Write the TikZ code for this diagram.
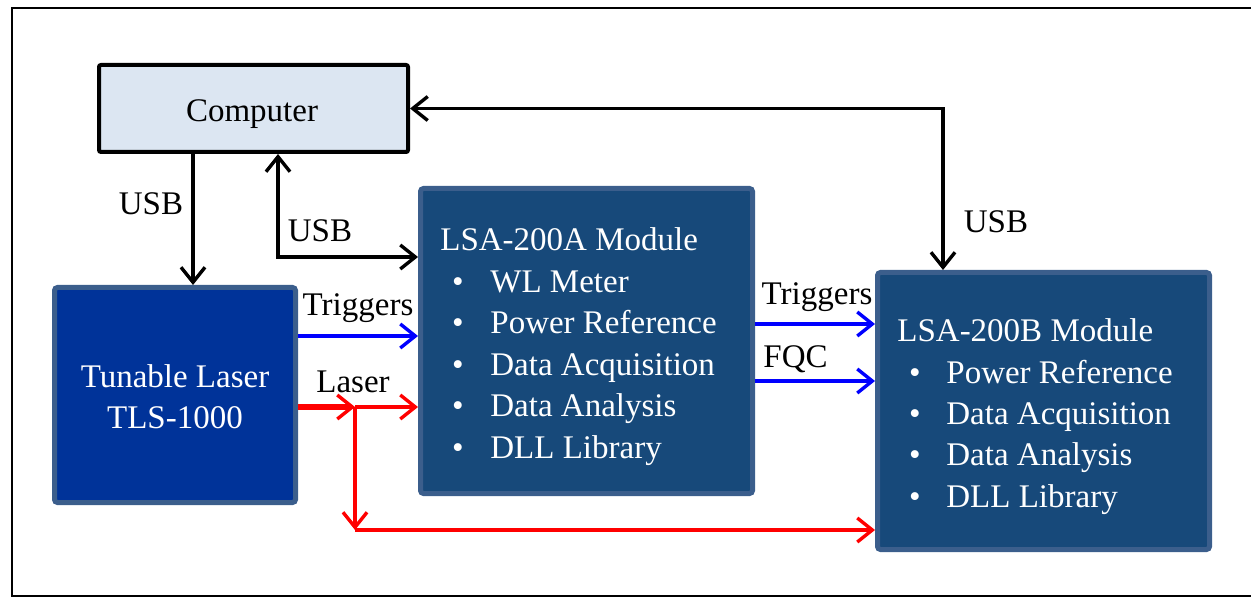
\documentclass[tikz,border=0pt]{standalone}
\usepackage{fontspec}
\setmainfont{Liberation Serif}
\usetikzlibrary{arrows.meta}
\definecolor{compfill}{RGB}{220,230,242}
\definecolor{laserfill}{RGB}{0,51,153}
\definecolor{lsafill}{RGB}{23,73,122}
\definecolor{boxedge}{RGB}{59,94,140}
\begin{document}
\begin{tikzpicture}[x=0.5pt,y=-0.5pt,
  font=\fontsize{16.5}{19}\selectfont,
  tip/.tip={Straight Barb[length=7.5pt,width=12pt,line width=1.7pt]},
  arr/.style={line width=1.7pt,-tip},
  arrtwo/.style={line width=1.7pt,tip-tip},
  barr/.style={arr,draw={rgb,255:red,0;green,0;blue,255}},
  rarr/.style={arr,draw={rgb,255:red,255;green,0;blue,0}},
  compbox/.style={draw=black,line width=2pt,fill=compfill,rounded corners=1pt,inner sep=0pt},
  darkbox/.style={draw=boxedge,line width=2.5pt,rounded corners=1.5pt,inner sep=0pt},
  lbl/.style={anchor=base,inner sep=0pt},
  wlbl/.style={anchor=base,inner sep=0pt,text=white},
  wlblw/.style={anchor=base west,inner sep=0pt,text=white}]
\useasboundingbox (0,0) rectangle (1251,598);
\begin{scope}
\clip (0,0) rectangle (1251,598);
\draw[line width=1pt] (12,8) rectangle (1270,596);
\end{scope}

% boxes
\node[compbox,minimum width=154.5pt,minimum height=43.5pt] (comp) at (253.5,108.5) {};
\node[darkbox,fill=laserfill,minimum width=120.5pt,minimum height=107.5pt] (laser) at (175,395) {};
\node[darkbox,fill=lsafill,minimum width=166pt,minimum height=152.5pt] (lsaA) at (586.5,341) {};
\node[darkbox,fill=lsafill,minimum width=166pt,minimum height=138.5pt] (lsaB) at (1043.5,411) {};

% box texts
\node[lbl] (compT) at (252,122) {Computer};
\node[wlbl] (laserT1) at (175,387) {Tunable Laser};
\node[wlbl] (laserT2) at (175,428) {TLS-1000};
\node[wlblw] (lsaAT) at (440,251) {LSA-200A Module};
\foreach \t [count=\i] in {WL Meter,Power Reference,Data Acquisition,Data Analysis,DLL Library}{
  \node[wlbl] (aB\i) at (458,{251+41.4*\i}) {\textbullet};
  \node[wlblw] (aI\i) at (490,{251+41.4*\i}) {\t};
}
\node[wlblw] (lsaBT) at (897,342) {LSA-200B Module};
\foreach \t [count=\i] in {Power Reference,Data Acquisition,Data Analysis,DLL Library}{
  \node[wlbl] (bB\i) at (915,{342+41.3*\i}) {\textbullet};
  \node[wlblw] (bI\i) at (946,{342+41.3*\i}) {\t};
}

% USB connections
\coordinate (u1) at (193,0);
\draw[arr] (u1 |- comp.south) -- (u1 |- laser.north);
\coordinate (u2) at (278,257);
\draw[arrtwo] (u2 |- comp.south) -- (u2) -- (u2 -| lsaA.west);
\coordinate (u3) at (943,108.5);
\draw[arrtwo] (comp.east) -- (u3) -- (u3 |- lsaB.north);
\node[lbl] (usb1) at (151,215) {USB};
\node[lbl] (usb2) at (320,242) {USB};
\node[lbl] (usb3) at (996,233) {USB};

% triggers and laser
\coordinate (t1) at (0,336);
\draw[barr] (t1 -| laser.east) -- (t1 -| lsaA.west);
\node[lbl] (trig1) at (358,315) {Triggers};
\coordinate (br) at (355,407);
\draw[rarr,line width=2.6pt] (br -| laser.east) -- (br);
\draw[rarr] (br) -- (br -| lsaA.west);
\coordinate (bc) at (355,530);
\draw[rarr] (br) -- (bc);
\draw[rarr] (bc) -- (bc -| lsaB.west);
\node[lbl] (laserL) at (353,392) {Laser};

\coordinate (t2) at (0,324);
\draw[barr] (t2 -| lsaA.east) -- (t2 -| lsaB.west);
\node[lbl] (trig2) at (817,305) {Triggers};
\coordinate (t3) at (0,381);
\draw[barr] (t3 -| lsaA.east) -- (t3 -| lsaB.west);
\node[anchor=base west,inner sep=0pt] (fqc) at (763,367) {FQC};
\end{tikzpicture}
\end{document}
